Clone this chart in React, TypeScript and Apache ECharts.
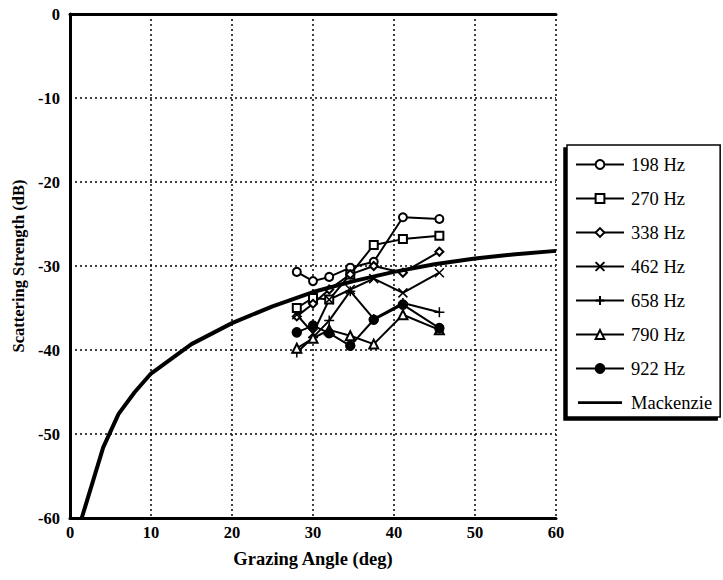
import React, { useEffect, useRef } from "react";
import * as echarts from "echarts";

const angles = [28, 30, 32, 34.6, 37.5, 41.1, 45.6];
const hz198 = [-30.7, -31.8, -31.3, -30.2, -29.5, -24.2, -24.4];
const hz270 = [-35.0, -33.8, -34.0, -31.0, -27.5, -26.8, -26.4];
const hz338 = [-36.0, -34.5, -32.8, -31.0, -30.0, -30.8, -28.3];
const hz462 = [-35.8, -38.0, -34.0, -32.8, -31.5, -33.2, -30.8];
const hz658 = [-40.3, -38.5, -36.5, -33.0, -36.3, -34.4, -35.5];
const hz790 = [-39.8, -38.6, -37.6, -38.3, -39.3, -35.8, -37.6];
const hz922 = [-37.9, -37.1, -38.0, -39.5, -36.4, -34.6, -37.4];

const mackAngles = [1.45, 2.3, 4.1, 6, 8, 10, 15, 20, 25, 30, 35, 40, 45, 50, 55, 60];
const mackValues = [-60, -57.3, -51.6, -47.6, -45.0, -42.8, -39.3, -36.8, -34.8, -33.1, -31.8, -30.7, -29.8, -29.1, -28.6, -28.2];

const xTicks = [0, 10, 20, 30, 40, 50, 60];
const yTicks = [0, -10, -20, -30, -40, -50, -60];

const FONT = "Liberation Serif";

const X_SYM = "path://M0,0L10,10M10,0L0,10";
const PLUS_SYM = "path://M5,0L5,10M0,5L10,5";
const MACK_ICON = "path://M0,0L0.05,0L0,0.05ZM0,4.5L48,4.5L48,7.5L0,7.5ZM48,12L47.95,12L48,11.95Z";

function pairs(xs: number[], ys: number[]) {
  return xs.map((x, i) => [x, ys[i]]);
}

export default function App() {
  const ref = useRef<HTMLDivElement>(null);
  useEffect(() => {
    if (!ref.current) return;
    const chart = echarts.init(ref.current, undefined, { renderer: "svg" });
    const mk = (name: string, ys: number[], symbol: string, size: number) => ({
      name,
      type: "line",
      data: pairs(angles, ys),
      symbol,
      symbolSize: size,
      showSymbol: true,
      lineStyle: { color: "#000", width: 2 },
      itemStyle: { color: "#000", borderColor: "#000", borderWidth: 1.5 },
      z: 3,
    });
    chart.setOption({
      animation: false,
      backgroundColor: "#fff",
      textStyle: { fontFamily: FONT },
      grid: { left: 70, top: 14, width: 486, height: 504, containLabel: false },
      xAxis: [
        {
          type: "value",
          min: 0,
          max: 60,
          interval: 10,
          name: "Grazing Angle (deg)",
          nameLocation: "middle",
          nameGap: 31,
          nameTextStyle: { color: "#000", fontSize: 18.5, fontWeight: "bold", fontFamily: FONT },
          axisLine: { show: true, onZero: false, lineStyle: { color: "#000", width: 3 } },
          axisTick: { show: false },
          axisLabel: {
            color: "#000",
            fontSize: 16.5,
            fontWeight: "bold",
            fontFamily: FONT,
            margin: 6,
            formatter: (v: number) => (xTicks.includes(v) ? String(v) : ""),
          },
          splitLine: { show: true, lineStyle: { color: "#000", type: [2, 3], width: 1.5 } },
        },
        {
          type: "value",
          position: "top",
          min: 0,
          max: 60,
          interval: 10,
          axisLine: { show: true, onZero: false, lineStyle: { color: "#000", width: 3 } },
          axisTick: { show: false },
          axisLabel: { show: false },
          splitLine: { show: false },
        },
      ],
      yAxis: {
        type: "value",
        min: -60,
        max: 0,
        interval: 10,
        name: "Scattering Strength (dB)",
        nameLocation: "middle",
        nameGap: 40,
        nameTextStyle: { color: "#000", fontSize: 16.5, fontWeight: "bold", fontFamily: FONT },
        axisLine: { show: true, onZero: false, lineStyle: { color: "#000", width: 3 } },
        axisTick: { show: false },
        axisLabel: {
          color: "#000",
          fontSize: 16.5,
          fontWeight: "bold",
          fontFamily: FONT,
          margin: 10,
          formatter: (v: number) => (yTicks.includes(v) ? String(v) : ""),
        },
        splitLine: { show: true, lineStyle: { color: "#000", type: [2, 3], width: 1.5 } },
      },
      legend: {
        orient: "vertical",
        left: 567,
        top: 145,
        width: 153,
        padding: [10, 8, 5, 8],
        itemWidth: 48,
        itemHeight: 11,
        itemGap: 15,
        borderColor: "#000",
        borderWidth: 1.5,
        backgroundColor: "#fff",
        shadowColor: "#000",
        shadowBlur: 0,
        shadowOffsetX: -3,
        shadowOffsetY: 3,
        textStyle: { color: "#000", fontSize: 18.5, fontFamily: FONT, padding: [0, 0, 0, 2] },
        data: [
          "198 Hz",
          "270 Hz",
          "338 Hz",
          "462 Hz",
          "658 Hz",
          "790 Hz",
          "922 Hz",
          { name: "Mackenzie", icon: MACK_ICON, itemStyle: { color: "#000" } },
        ],
      },
      series: [
        mk("198 Hz", hz198, "emptyCircle", 8),
        mk("270 Hz", hz270, "emptyRect", 8),
        mk("338 Hz", hz338, "emptyDiamond", 8),
        mk("462 Hz", hz462, X_SYM, 9),
        mk("658 Hz", hz658, PLUS_SYM, 10),
        mk("790 Hz", hz790, "emptyTriangle", 9),
        mk("922 Hz", hz922, "circle", 9),
        {
          name: "Mackenzie",
          type: "line",
          data: pairs(mackAngles, mackValues),
          symbol: "none",
          lineStyle: { color: "#000", width: 4 },
          itemStyle: { color: "#000" },
          z: 4,
        },
      ],
    });
    return () => chart.dispose();
  }, []);
  return <div ref={ref} style={{ position: "absolute", left: 0, top: 0, width: 723, height: 580 }} />;
}
